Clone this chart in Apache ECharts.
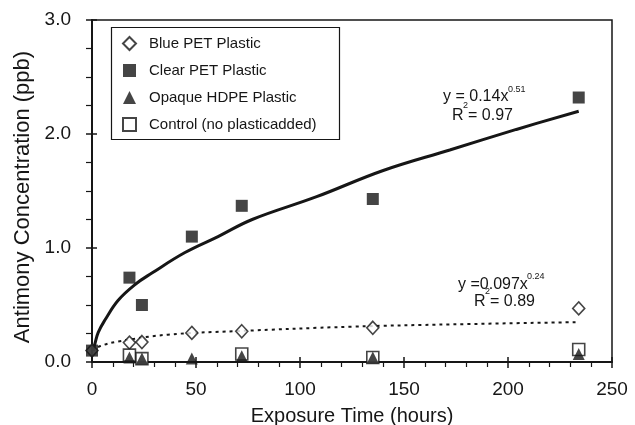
<!DOCTYPE html>
<html>
<head>
<meta charset="utf-8">
<script src="https://cdn.jsdelivr.net/npm/echarts@6/dist/echarts.min.js"></script>
<style>html,body{margin:0;padding:0;background:#fff}#c{width:635px;height:425px}</style>
</head>
<body>
<div id="c"></div>
<script>
// Data
const bluePET   = [[0, 0.10], [18, 0.17], [24, 0.175], [48, 0.255], [72, 0.27], [135, 0.30], [234, 0.47]];
const clearPET  = [[0, 0.10], [18, 0.74], [24, 0.50], [48, 1.10], [72, 1.37], [135, 1.43], [234, 2.32]];
const opaqueHDPE = [[18, 0.04], [24, 0.03], [48, 0.03], [72, 0.05], [135, 0.04], [234, 0.07]];
const control   = [[18, 0.06], [24, 0.03], [72, 0.07], [135, 0.04], [234, 0.11]];
// Trend curves
const clearTrend = [[0.5, 0.10], [1.4, 0.16], [3, 0.26], [6.3, 0.37], [12.5, 0.54], [20.7, 0.68], [28.8, 0.78], [44.7, 0.96], [60.6, 1.10], [77, 1.25], [108, 1.45], [140, 1.68], [172, 1.86], [204, 2.04], [234, 2.20]];
const blueTrend = [[0, 0.10], [4, 0.14], [12.5, 0.18], [36.5, 0.24], [69, 0.27], [125, 0.31], [173, 0.33], [234, 0.35]];
const seriesNames = ['Blue PET Plastic', 'Clear PET Plastic', 'Opaque HDPE Plastic', 'Control (no plasticadded)'];
const xTicks = [0, 50, 100, 150, 200, 250];
const yTicks = [0, 1, 2, 3];

const FONT = 'Liberation Sans, Arial, sans-serif';
const INK = '#161616';
const chart = echarts.init(document.getElementById('c'), null, {renderer: 'canvas'});

const baseX = {
  type: 'value', min: xTicks[0], max: xTicks[xTicks.length - 1], interval: 50,
  splitLine: {show: false}
};
const baseY = {
  type: 'value', min: yTicks[0], max: yTicks[yTicks.length - 1], interval: 1,
  splitLine: {show: false}
};

chart.setOption({
  animation: false,
  backgroundColor: '#fff',
  grid: {left: 92, right: 23, top: 20, bottom: 63, show: true, borderColor: INK, borderWidth: 1.5,
         containLabel: false, outerBoundsMode: 'none'},
  xAxis: [
    Object.assign({}, baseX, {
      position: 'bottom',
      name: 'Exposure Time (hours)', nameLocation: 'middle', nameGap: 44,
      nameTextStyle: {fontFamily: FONT, fontSize: 20, color: INK},
      axisLine: {show: true, lineStyle: {color: INK, width: 2}},
      axisTick: {show: true, inside: false, length: 6, lineStyle: {color: INK, width: 1.5}},
      minorTick: {show: true, splitNumber: 5, length: 5, lineStyle: {color: INK, width: 1.2}},
      axisLabel: {fontFamily: FONT, fontSize: 19, color: INK, margin: 18}
    }),
    Object.assign({}, baseX, {
      position: 'bottom', gridIndex: 0,
      axisLine: {show: false},
      axisTick: {show: true, inside: true, length: 5, lineStyle: {color: INK, width: 1.5}},
      axisLabel: {show: false}
    })
  ],
  yAxis: [
    Object.assign({}, baseY, {
      position: 'left',
      name: 'Antimony Concentration (ppb)', nameLocation: 'middle', nameGap: 58,
      nameTextStyle: {fontFamily: FONT, fontSize: 22, color: INK, padding: [0, 12, 0, 0]},
      axisLine: {show: true, lineStyle: {color: INK, width: 2}},
      axisTick: {show: true, inside: false, length: 6, lineStyle: {color: INK, width: 1.5}},
      minorTick: {show: true, splitNumber: 4, length: 6, lineStyle: {color: INK, width: 1.2}},
      axisLabel: {fontFamily: FONT, fontSize: 19, color: INK, margin: 21, formatter: v => v.toFixed(1)}
    }),
    Object.assign({}, baseY, {
      position: 'left', gridIndex: 0,
      axisLine: {show: false},
      axisTick: {show: true, inside: true, length: 5, lineStyle: {color: INK, width: 1.5}},
      axisLabel: {show: false}
    })
  ],
  legend: {
    orient: 'vertical', left: 122, top: 36, padding: 0,
    data: seriesNames,
    itemWidth: 13, itemHeight: 13, itemGap: 12,
    textStyle: {fontFamily: FONT, fontSize: 15, color: INK, padding: [0, 0, 0, 8]},
    selectedMode: false
  },
  graphic: [
    {type: 'rect', left: 109, top: 25, shape: {width: 228, height: 112}, style: {fill: 'none', stroke: INK, lineWidth: 1.2}, z: 100},
    {type: 'text', left: 443, top: 89, style: {text: 'y = 0.14x', font: '16px ' + FONT, fill: INK}, z: 100},
    {type: 'text', left: 508, top: 85, style: {text: '0.51', font: '9px ' + FONT, fill: INK}, z: 100},
    {type: 'text', left: 452, top: 108, style: {text: 'R', font: '16px ' + FONT, fill: INK}, z: 100},
    {type: 'text', left: 463, top: 101, style: {text: '2', font: '9px ' + FONT, fill: INK}, z: 100},
    {type: 'text', left: 468, top: 108, style: {text: '= 0.97', font: '16px ' + FONT, fill: INK}, z: 100},
    {type: 'text', left: 458, top: 277, style: {text: 'y =0.097x', font: '16px ' + FONT, fill: INK}, z: 100},
    {type: 'text', left: 527, top: 272, style: {text: '0.24', font: '9px ' + FONT, fill: INK}, z: 100},
    {type: 'text', left: 474, top: 294, style: {text: 'R', font: '16px ' + FONT, fill: INK}, z: 100},
    {type: 'text', left: 485, top: 287, style: {text: '2', font: '9px ' + FONT, fill: INK}, z: 100},
    {type: 'text', left: 490, top: 294, style: {text: '= 0.89', font: '16px ' + FONT, fill: INK}, z: 100}
  ],
  series: [
    {type: 'line', name: 'clearTrend', data: clearTrend, smooth: 0.4, showSymbol: false, symbol: 'none',
     lineStyle: {color: INK, width: 3}, z: 2, silent: true},
    {type: 'line', name: 'blueTrend', data: blueTrend, smooth: 0.4, showSymbol: false, symbol: 'none',
     lineStyle: {color: INK, width: 2, type: [3, 4]}, z: 2, silent: true},
    {type: 'scatter', name: seriesNames[0], data: bluePET, symbol: 'diamond', symbolSize: [12, 13],
     itemStyle: {color: '#fff', borderColor: INK, borderWidth: 1.6}, z: 3},
    {type: 'scatter', name: seriesNames[1], data: clearPET, symbol: 'rect', symbolSize: 12,
     itemStyle: {color: INK}, z: 4},
    {type: 'scatter', name: seriesNames[3], data: control, symbol: 'rect', symbolSize: 12,
     itemStyle: {color: '#fff', borderColor: INK, borderWidth: 1.6}, z: 3},
    {type: 'scatter', name: seriesNames[2], data: opaqueHDPE, symbol: 'triangle', symbolSize: 12,
     itemStyle: {color: INK}, z: 4}
  ]
});
</script>
</body>
</html>
